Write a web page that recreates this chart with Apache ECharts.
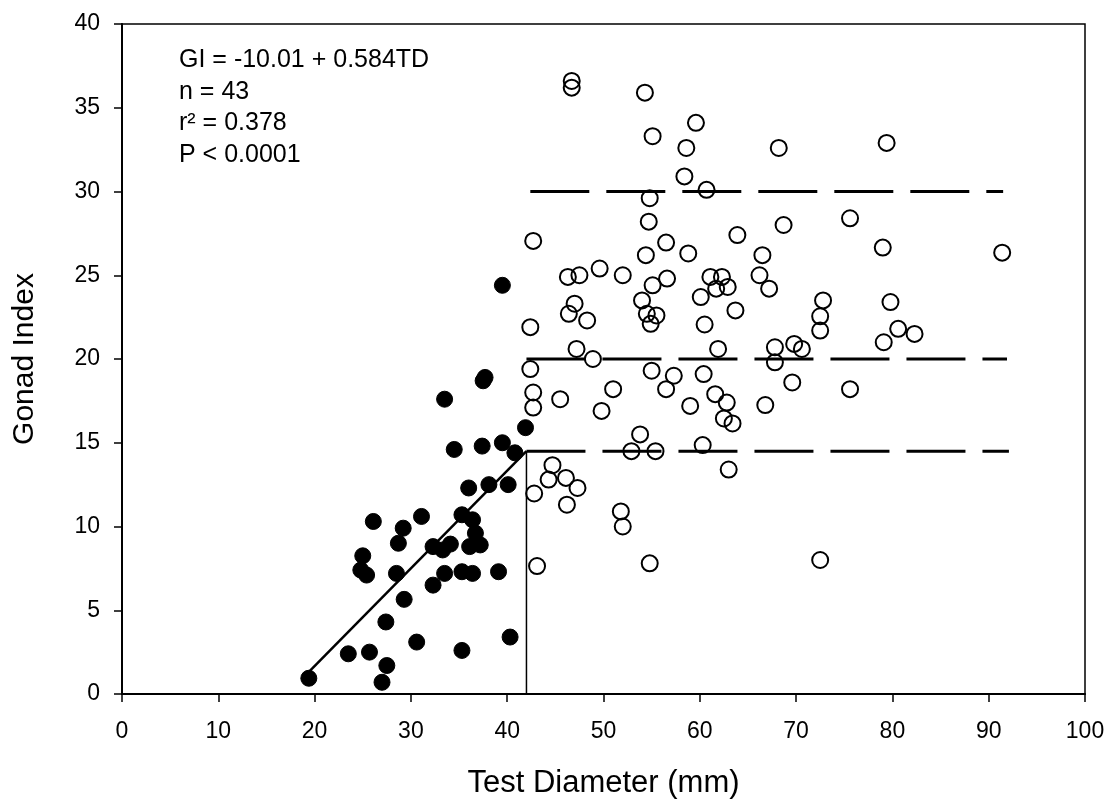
<!doctype html>
<html lang="en">
<head>
    <meta charset="UTF-8">
    <title>Gonad Index vs Test Diameter</title>
    <style>
        html, body {
            margin: 0;
            padding: 0;
            background: #fff;
        }
        #main {
            width: 1112px;
            height: 809px;
        }
    </style>
</head>
<body>
<div id="main"></div>
<script src="https://cdn.jsdelivr.net/npm/echarts@6/dist/echarts.min.js"></script>
<script>
    // immature (filled) points
    var solidTD = [37.7, 37.5, 33.5, 41.9, 34.5, 37.4, 39.5, 40.8, 36.0, 38.1, 40.1, 35.3, 36.4, 26.1, 31.1,
        29.2, 28.7, 32.3, 33.3, 34.1, 36.1, 37.2, 36.7, 25.0, 24.8, 25.4, 28.5, 32.3, 33.5, 35.3,
        36.4, 39.1, 29.3, 27.4, 30.6, 40.3, 23.5, 25.7, 35.3, 27.5, 27.0, 19.4, 39.5];
    var solidGI = [18.9, 18.7, 17.6, 15.9, 14.6, 14.8, 15.0, 14.4, 12.3, 12.5, 12.5, 10.7, 10.4, 10.3, 10.6,
        9.9, 9.0, 8.8, 8.6, 8.95, 8.8, 8.9, 9.6, 8.25, 7.4, 7.1, 7.2, 6.5, 7.2, 7.3,
        7.2, 7.3, 5.65, 4.3, 3.1, 3.4, 2.4, 2.5, 2.6, 1.7, 0.7, 0.94, 24.4];

    // mature (open) points
    var openTD = [46.7, 46.7, 54.3, 59.6, 55.1, 58.6, 68.2, 79.4, 58.4, 60.7, 54.8, 54.7, 68.7, 75.6, 42.7,
        63.9, 56.5, 54.4, 58.8, 66.5, 79.0, 91.4, 46.3, 47.5, 49.6, 52.0, 56.6, 55.1, 61.1, 62.3,
        62.9, 61.7, 66.2, 67.2, 54.0, 47.0, 46.4, 48.3, 54.5, 55.5, 54.9, 60.1, 63.7, 60.5, 42.4,
        72.8, 72.5, 72.5, 79.8, 80.6, 82.3, 79.1, 47.2, 48.9, 61.9, 67.8, 67.8, 69.8, 70.6, 42.4,
        55.0, 57.3, 56.5, 60.4, 69.6, 75.6, 42.7, 42.7, 45.5, 51.0, 49.8, 61.6, 62.8, 62.5, 63.4,
        59.0, 66.8, 53.8, 52.9, 55.4, 60.3, 63.0, 44.7, 44.3, 46.1, 47.3, 42.8, 46.2, 51.8, 52.0,
        43.1, 54.8, 72.5];
    var openGI = [36.6, 36.2, 35.9, 34.1, 33.3, 32.6, 32.6, 32.9, 30.9, 30.1, 29.6, 28.2, 28.0, 28.4, 27.05,
        27.4, 26.95, 26.2, 26.3, 26.2, 26.65, 26.35, 24.9, 25.0, 25.4, 25.0, 24.8, 24.4, 24.9, 24.9,
        24.3, 24.2, 25.0, 24.2, 23.5, 23.3, 22.7, 22.3, 22.7, 22.6, 22.1, 23.7, 22.9, 22.06, 21.9,
        23.5, 22.55, 21.7, 23.4, 21.8, 21.5, 21.0, 20.6, 20.0, 20.6, 20.7, 19.8, 20.9, 20.6, 19.4,
        19.3, 19.0, 18.2, 19.1, 18.6, 18.2, 18.0, 17.1, 17.6, 18.2, 16.9, 17.9, 17.4, 16.45, 16.15,
        17.2, 17.25, 15.5, 14.5, 14.5, 14.86, 13.4, 13.66, 12.8, 12.9, 12.3, 11.97, 11.3, 10.9, 10.0,
        7.64, 7.8, 8.0];

    // regression line end points
    var fitTD = [19.2, 42.0];
    var fitGI = [1.2, 14.5];

    // threshold at TD = 42
    var cutTD = [42.0, 42.0];
    var cutGI = [0, 14.5];

    // dashed reference levels
    var levelGI = [14.5, 20, 30];
    var levelStart = [42.0, 42.0, 42.4];
    var levelEnd = [92.1, 91.9, 91.5];

    var xTicks = [0, 100, 10];
    var yTicks = [0, 40, 5];

    var annoLines = ['GI = -10.01 + 0.584TD', 'n = 43', 'r² = 0.378', 'P < 0.0001'];

    var FONT = 'Liberation Sans, Arial, Helvetica, sans-serif';

    function pairs(xs, ys) {
        var out = [];
        for (var i = 0; i < xs.length; i++) {
            out.push([xs[i], ys[i]]);
        }
        return out;
    }

    var series = [];

    // dashed lines
    for (var k = 0; k < levelGI.length; k++) {
        series.push({
            type: 'line',
            data: [[levelStart[k], levelGI[k]], [levelEnd[k], levelGI[k]]],
            symbol: 'none',
            silent: true,
            z: 2,
            lineStyle: {color: '#000', width: 3, type: [59, 17], cap: 'butt', opacity: 1}
        });
    }
    series.push({
        type: 'line',
        data: pairs(cutTD, cutGI),
        symbol: 'none',
        silent: true,
        z: 2,
        lineStyle: {color: '#000', width: 1.5, opacity: 1}
    });
    series.push({
        type: 'line',
        data: pairs(fitTD, fitGI),
        symbol: 'none',
        silent: true,
        z: 2,
        lineStyle: {color: '#000', width: 2.5, opacity: 1}
    });
    series.push({
        type: 'scatter',
        data: pairs(openTD, openGI),
        symbol: 'circle',
        symbolSize: 16,
        z: 3,
        itemStyle: {color: 'transparent', borderColor: '#000', borderWidth: 2, opacity: 1}
    });
    series.push({
        type: 'scatter',
        data: pairs(solidTD, solidGI),
        symbol: 'circle',
        symbolSize: 16,
        z: 4,
        itemStyle: {color: '#000', borderColor: '#000', borderWidth: 1, opacity: 1}
    });

    var graphics = [];
    for (var j = 0; j < annoLines.length; j++) {
        graphics.push({
            type: 'text',
            left: 179,
            top: 48 + j * 31.5,
            style: {
                text: annoLines[j],
                font: '25px ' + FONT,
                fill: '#000'
            },
            z: 10
        });
    }

    var myChart = echarts.init(document.getElementById('main'), null, {renderer: 'canvas'});
    var option = {
        backgroundColor: '#fff',
        animation: false,
        grid: {
            left: 122,
            right: 27,
            top: 24,
            bottom: 115,
            show: true,
            borderColor: '#000',
            borderWidth: 1.5
        },
        xAxis: {
            type: 'value',
            min: xTicks[0],
            max: xTicks[1],
            interval: xTicks[2],
            name: 'Test Diameter (mm)',
            nameLocation: 'middle',
            nameGap: 74,
            nameTextStyle: {fontSize: 31, color: '#000', fontFamily: FONT},
            axisLine: {show: true, onZero: false, lineStyle: {color: '#000', width: 2}},
            axisTick: {show: true, inside: false, length: 8, lineStyle: {color: '#000', width: 1.5}},
            axisLabel: {fontSize: 23, color: '#000', margin: 26, fontFamily: FONT},
            splitLine: {show: false}
        },
        yAxis: {
            type: 'value',
            min: yTicks[0],
            max: yTicks[1],
            interval: yTicks[2],
            name: 'Gonad Index',
            nameLocation: 'middle',
            nameGap: 82,
            nameTextStyle: {fontSize: 30, color: '#000', fontFamily: FONT},
            axisLine: {show: true, onZero: false, lineStyle: {color: '#000', width: 2}},
            axisTick: {show: true, inside: false, length: 8, lineStyle: {color: '#000', width: 1.5}},
            axisLabel: {fontSize: 23, color: '#000', margin: 22, fontFamily: FONT},
            splitLine: {show: false}
        },
        graphic: graphics,
        series: series
    };
    myChart.setOption(option);
</script>
</body>
</html>
